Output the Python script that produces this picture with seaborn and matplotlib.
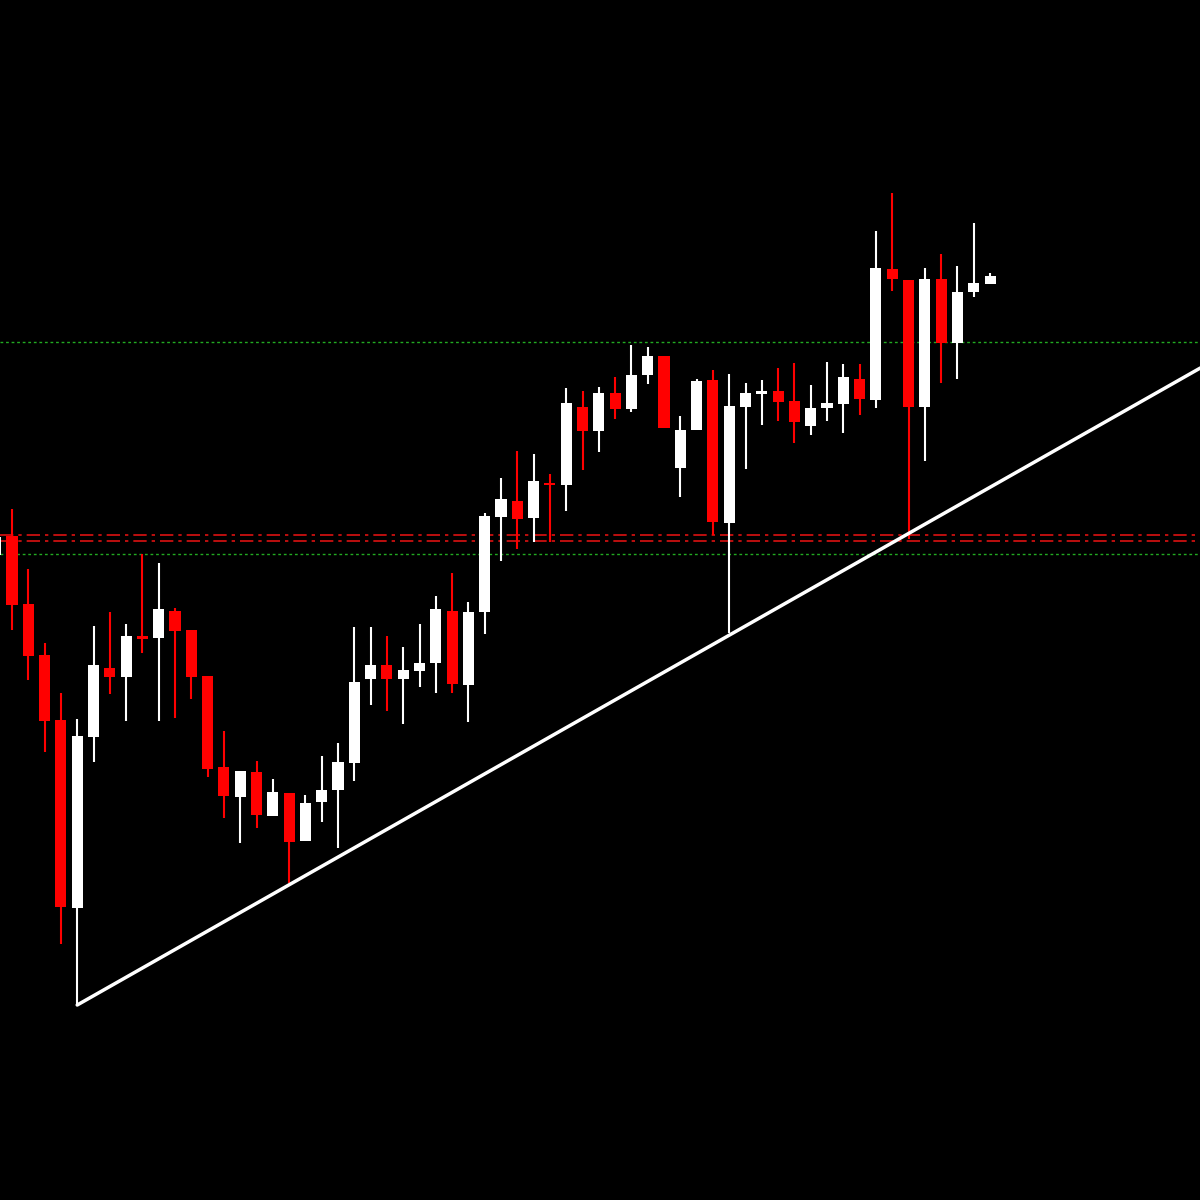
import matplotlib
matplotlib.use("Agg")
import matplotlib.pyplot as plt
import seaborn as sns
import numpy as np

# screen-read values, converted to price = 1200 - pixel row
open_px  = [555,536,604,655,720,908,737,668,677,636,638,611,630,676,767,797,772,816,793,841,802,790,763,679,665,679,671,663,611,685,612,517,501,518,483,485,407,431,393,409,375,356,468,430,380,523,407,394,391,401,426,408,404,379,400,269,280,407,279,343,292,284]
close_px = [537,605,656,721,907,736,665,677,636,639,609,631,677,769,796,771,815,792,842,803,790,762,682,665,679,670,663,609,684,612,516,499,519,481,485,403,431,393,409,375,356,428,430,381,522,406,393,391,402,422,408,403,377,399,268,279,407,279,343,292,283,276]
high_px  = [535,509,569,643,693,719,626,612,624,554,563,608,630,676,731,771,761,779,793,795,756,743,627,627,636,647,624,596,573,602,513,478,451,454,474,388,391,387,377,345,347,356,416,379,370,374,383,380,368,363,385,362,364,364,231,193,280,268,254,266,223,273]
low_px   = [557,630,680,752,944,1005,762,694,721,653,721,718,699,777,818,843,828,816,883,841,822,848,781,705,711,724,687,693,693,722,634,561,549,542,542,511,470,452,419,412,384,428,497,430,535,633,469,425,421,443,435,421,433,415,408,291,539,461,383,379,297,284]

opens = [1200 - v for v in open_px]
closes = [1200 - v for v in close_px]
highs = [1200 - v for v in high_px]
lows = [1200 - v for v in low_px]

green_levels = [1200 - 342, 1200 - 554]
red_levels = [1200 - 535, 1200 - 541]
trend_x = [5, 73.9]
trend_y = [1200 - 1005, 1200 - 368]

sns.set_style("dark", {"axes.facecolor": "black", "figure.facecolor": "black"})
fig = plt.figure(figsize=(12, 12), dpi=100)
ax = fig.add_axes([0, 0, 1, 1])
ax.set_facecolor("black")

idx = np.arange(len(opens))
for i, o, c, h, l in zip(idx, opens, closes, highs, lows):
    col = "white" if c >= o else "#ff0000"
    ax.vlines(i, l, h, color=col, lw=1.5, zorder=2)
    lo, hi = min(o, c), max(o, c)
    ax.bar(i, max(hi - lo, 2), bottom=lo, width=0.68, color=col, lw=0, zorder=3)

for g in green_levels:
    ax.axhline(g, color="#22aa22", lw=1, ls=(0, (2, 2)), zorder=1)
for r in red_levels:
    ax.axhline(r, color="#dd1111", lw=1.2, ls=(0, (8, 3, 2, 3)), zorder=1)

sns.lineplot(x=trend_x, y=trend_y, color="white", lw=2.5, ax=ax, zorder=4)

ax.set_xlim(0.264, 73.88)
ax.set_ylim(0, 1200)
ax.axis("off")
fig.savefig("out.png", dpi=100, facecolor="black")
